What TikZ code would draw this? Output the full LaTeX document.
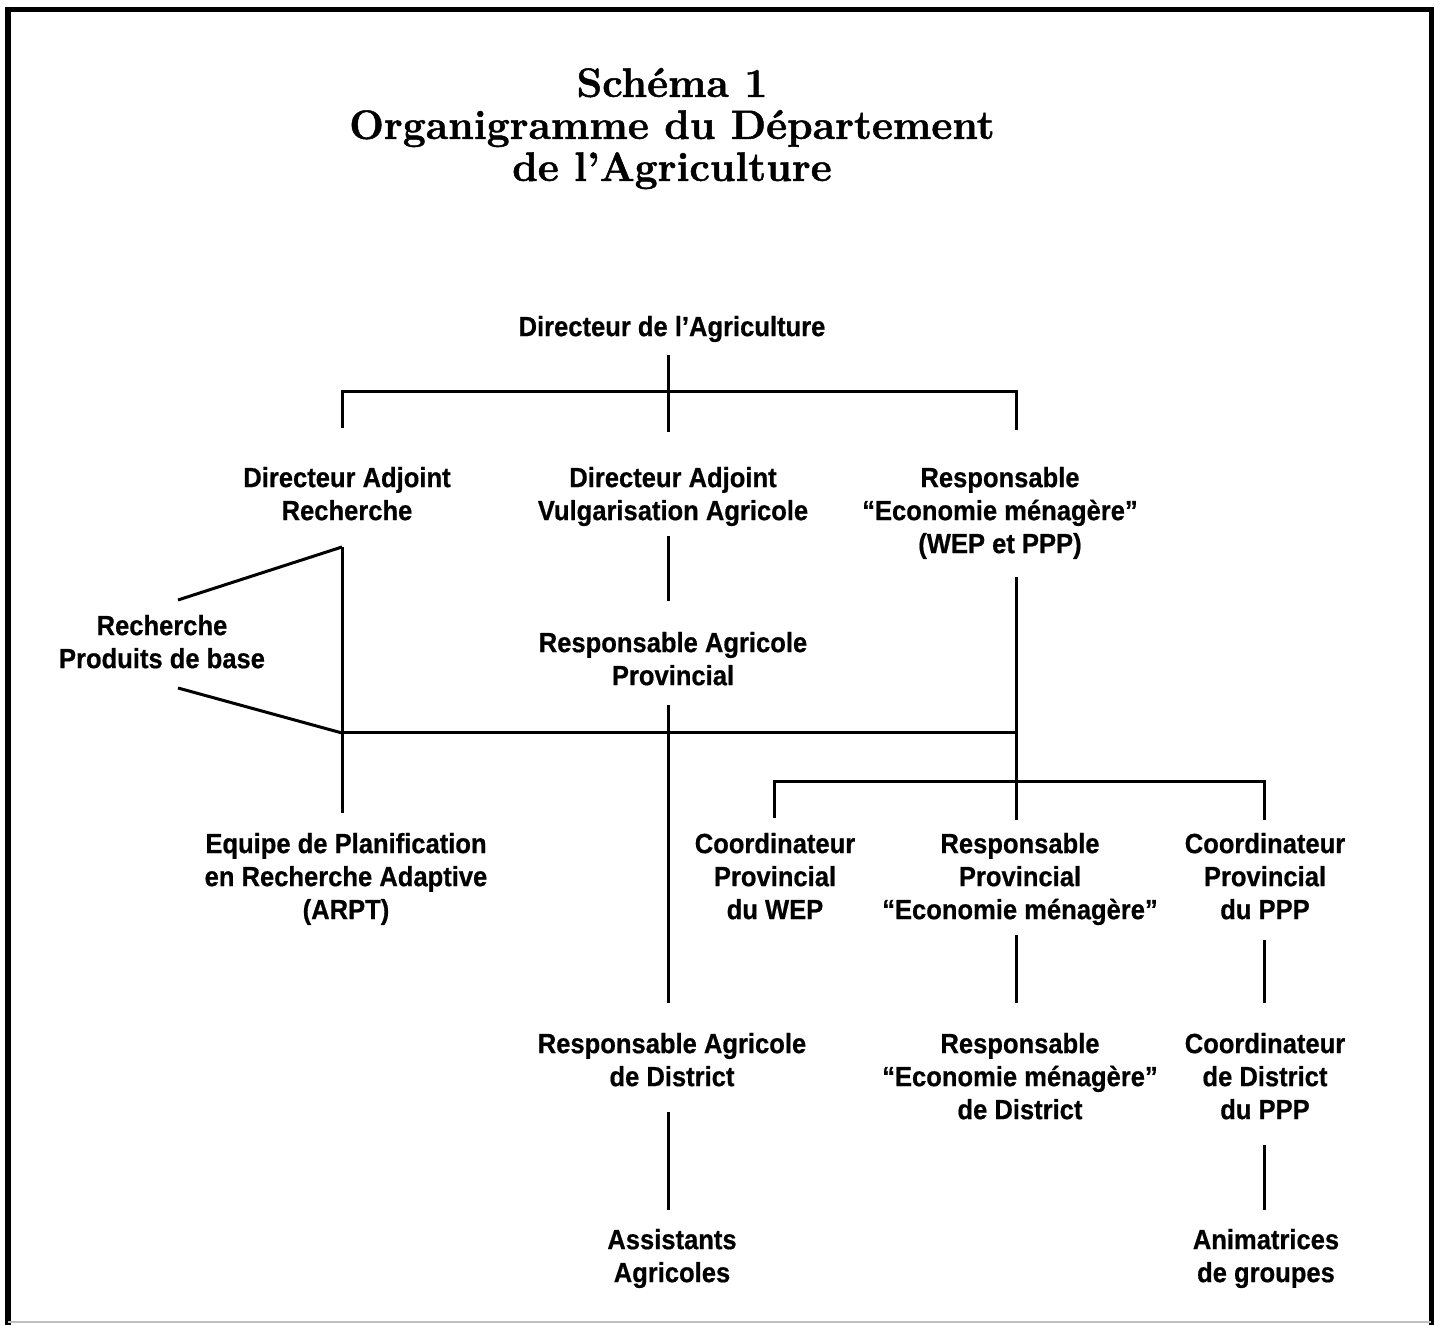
\documentclass[tikz,border=0pt]{standalone}
\usepackage{fontspec}
\newfontfamily\orgfont[FakeStretch=0.92,FakeBold=0.6]{Liberation Sans}
\newfontfamily\ttlfont[FakeBold=1.2]{Latin Modern Roman}
\begin{document}
\begin{tikzpicture}[x=0.01cm,y=-0.01cm,
  lbl/.style={font={\orgfont\fontsize{7.9pt}{9.39pt}\selectfont\bfseries}, align=center, inner sep=0pt, outer sep=0pt, anchor=north},
  ttl/.style={font={\ttlfont\fontsize{11.65pt}{11.95pt}\selectfont\bfseries}, align=center, inner sep=0pt, outer sep=0pt, anchor=north},
  conn/.style={line width=0.03cm, line join=miter, draw=black}]
\useasboundingbox (0,0) rectangle (1441,1325);
\fill[white] (0,0) rectangle (1441,1325);
% frame
\draw[line width=0.05cm, line join=miter] (8,1325) -- (8,10) -- (1431,10) -- (1431,1325);
\draw[black!25, line width=0.02cm] (8,1322) -- (1431,1322);
% title
\node[ttl] (title) at (672,68) {Schéma 1\\Organigramme du Département\\de l’Agriculture};
% nodes
\node[lbl] (dir)  at (672,316)  {Directeur de l’Agriculture};
\node[lbl] (dar)  at (347,467)  {Directeur Adjoint\\Recherche};
\node[lbl] (dav)  at (673,467)  {Directeur Adjoint\\Vulgarisation Agricole};
\node[lbl] (rem)  at (1000,467) {Responsable\\“Economie ménagère”\\(WEP et PPP)};
\node[lbl] (rpb)  at (162,615)  {Recherche\\Produits de base};
\node[lbl] (rap)  at (673,632)  {Responsable Agricole\\Provincial};
\node[lbl] (arpt) at (346,833)  {Equipe de Planification\\en Recherche Adaptive\\(ARPT)};
\node[lbl] (cpw)  at (775,833)  {Coordinateur\\Provincial\\du WEP};
\node[lbl] (rpe)  at (1020,833) {Responsable\\Provincial\\“Economie ménagère”};
\node[lbl] (cpp)  at (1265,833) {Coordinateur\\Provincial\\du PPP};
\node[lbl] (rad)  at (672,1033) {Responsable Agricole\\de District};
\node[lbl] (red)  at (1020,1033) {Responsable\\“Economie ménagère”\\de District};
\node[lbl] (cdp)  at (1265,1033) {Coordinateur\\de District\\du PPP};
\node[lbl] (ass)  at (672,1229) {Assistants\\Agricoles};
\node[lbl] (ani)  at (1266,1229) {Animatrices\\de groupes};
% columns and bus levels
\coordinate (colA) at (342,0);
\coordinate (colB) at (668,0);
\coordinate (colC) at (1016,0);
\coordinate (colD) at (774,0);
\coordinate (colE) at (1264,0);
\coordinate (bus1) at (0,392);
\coordinate (bus2) at (0,733);
\coordinate (bus3) at (0,782);
\coordinate (apex) at (342,547);
\coordinate (tipU) at (178,600);
\coordinate (tipL) at (178,688);
% connectors
\draw[conn, shorten <=0.13cm, shorten >=0.35cm] (dir.south -| colB) -- (dav.north -| colB);
\draw[conn, shorten <=0.39cm, shorten >=0.37cm] (dar.north -| colA) -- (colA |- bus1) -- (colC |- bus1) -- (rem.north -| colC);
\draw[conn, shorten <=0.27cm, shorten >=0.20cm] (dar.south -| colA) -- (arpt.north -| colA);
\draw[conn] (tipU) -- (apex);
\draw[conn] (tipL) -- (colA |- bus2);
\draw[conn] (colA |- bus2) -- (colC |- bus2);
\draw[conn, shorten <=0.18cm, shorten >=0.13cm] (rem.south -| colC) -- (rpe.north -| colC);
\draw[conn, shorten <=0.15cm, shorten >=0.13cm] (cpw.north -| colD) -- (colD |- bus3) -- (colE |- bus3) -- (cpp.north -| colE);
\draw[conn, shorten <=0.10cm, shorten >=0.31cm] (dav.south -| colB) -- (rap.north -| colB);
\draw[conn, shorten <=0.20cm, shorten >=0.30cm] (rap.south -| colB) -- (rad.north -| colB);
\draw[conn, shorten <=0.10cm, shorten >=0.30cm] (rpe.south -| colC) -- (red.north -| colC);
\draw[conn, shorten <=0.21cm, shorten >=0.30cm] (cpp.south -| colE) -- (cdp.north -| colE);
\draw[conn, shorten <=0.26cm, shorten >=0.19cm] (rad.south -| colB) -- (ass.north -| colB);
\draw[conn, shorten <=0.26cm, shorten >=0.19cm] (cdp.south -| colE) -- (ani.north -| colE);
\end{tikzpicture}
\end{document}
